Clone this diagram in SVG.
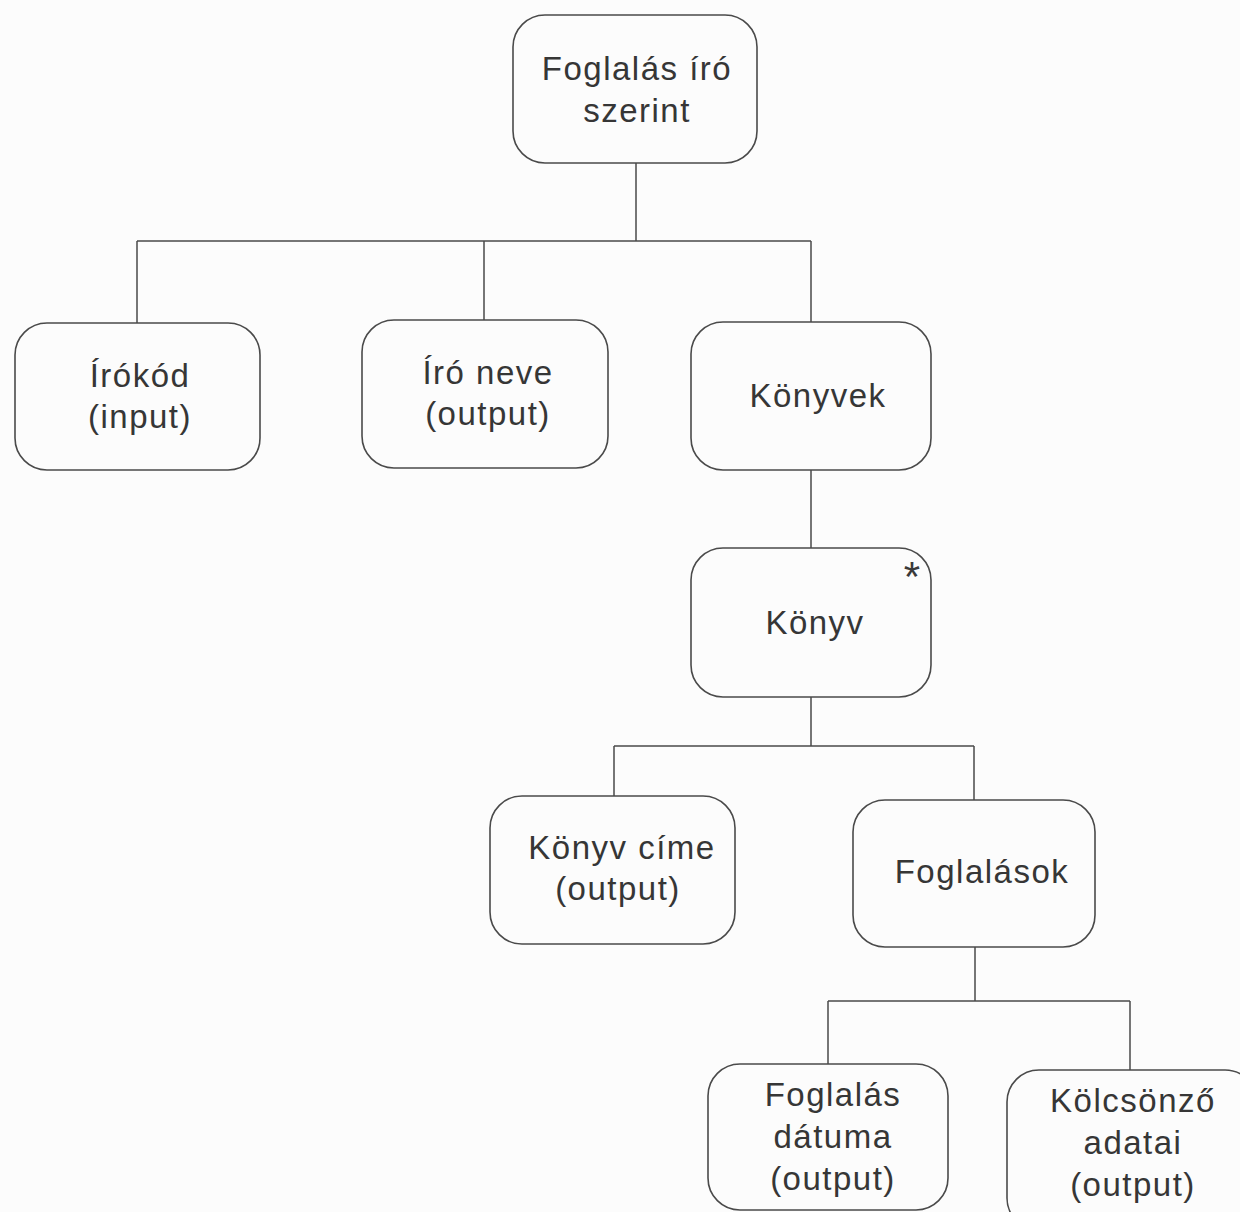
<svg xmlns="http://www.w3.org/2000/svg" width="1240" height="1212" viewBox="0 0 1240 1212">
  <style>
    .box { fill: none; stroke: #4a4a4a; stroke-width: 1.6; }
    .lbl { font-family: "Liberation Sans", Arial, sans-serif; font-size: 33px; fill: #363636; text-anchor: middle; letter-spacing: 1.5px; }
    .mark { font-family: "Liberation Sans", Arial, sans-serif; font-size: 42px; fill: #3a3a3a; text-anchor: middle; }
    .wire { fill: none; stroke: #4a4a4a; stroke-width: 1.5; }
  </style>
  <rect width="1240" height="1212" fill="#fcfcfc"/>

  <!-- tree connectors -->
  <g id="connectors">
    <path class="wire" d="M636 163 V241 M137 241 H811 M137 241 V323 M484 241 V320 M811 241 V322"/>
    <path class="wire" d="M811 470 V548"/>
    <path class="wire" d="M811 697 V746 M614 746 H974 M614 746 V796 M974 746 V800"/>
    <path class="wire" d="M975 947 V1001 M828 1001 H1130 M828 1001 V1064 M1130 1001 V1070"/>
  </g>

  <g id="root">
    <rect class="box" x="513" y="15" width="244" height="148" rx="32"/>
    <text class="lbl" x="637" y="80">Foglalás író</text>
    <text class="lbl" x="637" y="122">szerint</text>
  </g>

  <g id="irokod">
    <rect class="box" x="15" y="323" width="245" height="147" rx="32"/>
    <text class="lbl" x="140" y="387">Írókód</text>
    <text class="lbl" x="140" y="428">(input)</text>
  </g>

  <g id="iro-neve">
    <rect class="box" x="362" y="320" width="246" height="148" rx="32"/>
    <text class="lbl" x="488" y="384">Író neve</text>
    <text class="lbl" x="488" y="425">(output)</text>
  </g>

  <g id="konyvek">
    <rect class="box" x="691" y="322" width="240" height="148" rx="32"/>
    <text class="lbl" x="818" y="407">Könyvek</text>
  </g>

  <g id="konyv">
    <rect class="box" x="691" y="548" width="240" height="149" rx="32"/>
    <text class="lbl" x="815" y="634">Könyv</text>
    <text class="mark" x="912" y="591">*</text>
  </g>

  <g id="konyv-cime">
    <rect class="box" x="490" y="796" width="245" height="148" rx="32"/>
    <text class="lbl" x="622" y="859">Könyv címe</text>
    <text class="lbl" x="618" y="900">(output)</text>
  </g>

  <g id="foglalasok">
    <rect class="box" x="853" y="800" width="242" height="147" rx="32"/>
    <text class="lbl" x="982" y="883">Foglalások</text>
  </g>

  <g id="foglalas-datuma">
    <rect class="box" x="708" y="1064" width="240" height="146" rx="32"/>
    <text class="lbl" x="833" y="1106">Foglalás</text>
    <text class="lbl" x="833" y="1148">dátuma</text>
    <text class="lbl" x="833" y="1190">(output)</text>
  </g>

  <g id="kolcsonzo-adatai">
    <rect class="box" x="1007" y="1070" width="250" height="160" rx="32"/>
    <text class="lbl" x="1133" y="1112">Kölcsönző</text>
    <text class="lbl" x="1133" y="1154">adatai</text>
    <text class="lbl" x="1133" y="1196">(output)</text>
  </g>
</svg>
